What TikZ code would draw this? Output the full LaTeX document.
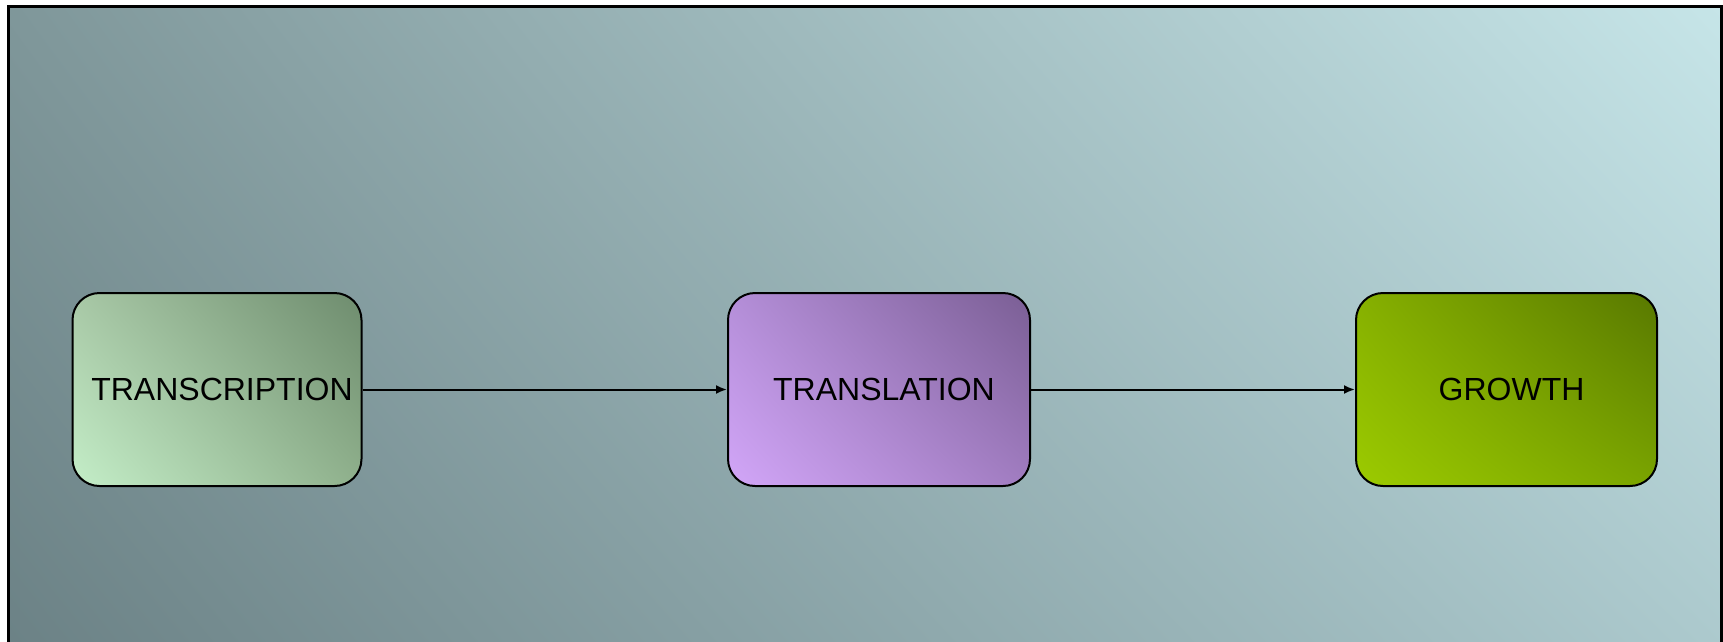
\documentclass[tikz,border=0pt]{standalone}
\usepackage{fontspec}
\setmainfont{Liberation Sans}
\usepackage{tikz}
\usetikzlibrary{arrows.meta, positioning, calc, shadings}
\definecolor{bgll}{HTML}{6A8084}
\definecolor{bgul}{HTML}{7F979A}
\definecolor{bgur}{HTML}{C6E5E8}
\definecolor{bglr}{HTML}{AAC7CB}
\definecolor{tcll}{HTML}{C4EEC8}
\definecolor{tcul}{HTML}{A8C8A6}
\definecolor{tcur}{HTML}{6E8C6E}
\definecolor{tclr}{HTML}{8FB08C}
\definecolor{tlll}{HTML}{D2A6F8}
\definecolor{tlul}{HTML}{B48ED8}
\definecolor{tlur}{HTML}{7A5E94}
\definecolor{tllr}{HTML}{A07CC0}
\definecolor{grll}{HTML}{9CCB00}
\definecolor{grul}{HTML}{86B000}
\definecolor{grur}{HTML}{587800}
\definecolor{grlr}{HTML}{7AA400}
\tikzset{
    stagebox/.style = {draw=black, line width=2pt, rounded corners=27pt,
        minimum height=193pt, inner sep=0pt, text centered,
        font=\fontsize{32}{38}\selectfont},
    transcr/.style = {stagebox, minimum width=289pt,
        lower left=tcll, upper left=tcul, upper right=tcur, lower right=tclr},
    transl/.style = {stagebox, minimum width=302pt,
        lower left=tlll, upper left=tlul, upper right=tlur, lower right=tllr},
    growth/.style = {stagebox, minimum width=301pt,
        lower left=grll, upper left=grul, upper right=grur, lower right=grlr},
    flow/.style = {line width=2pt},
}
\begin{document}
\begin{tikzpicture}[x=1pt, y=-1pt, >={Latex[length=11pt,width=9pt]}]
    \useasboundingbox (0,0) rectangle (1723,641);
    \clip (0,0) rectangle (1723,641);
    % backdrop
    \shade[lower left=bgll, upper left=bgul, upper right=bgur, lower right=bglr]
        (8.5,6.5) rectangle (1721,700);
    \draw[line width=3pt] (8.5,6.5) rectangle (1721,700);
    % stages
    \node (tc) [transcr] at (217,389.5) {\hspace*{10pt}TRANSCRIPTION};
    \node (tl) [transl] at (879,389.5) {\hspace*{10pt}TRANSLATION};
    \node (gr) [growth] at (1506.5,389.5) {\hspace*{10pt}GROWTH};
    \draw[flow, ->] (tc) -- (tl);
    \draw[flow, ->] (tl) -- (gr);
\end{tikzpicture}
\end{document}
